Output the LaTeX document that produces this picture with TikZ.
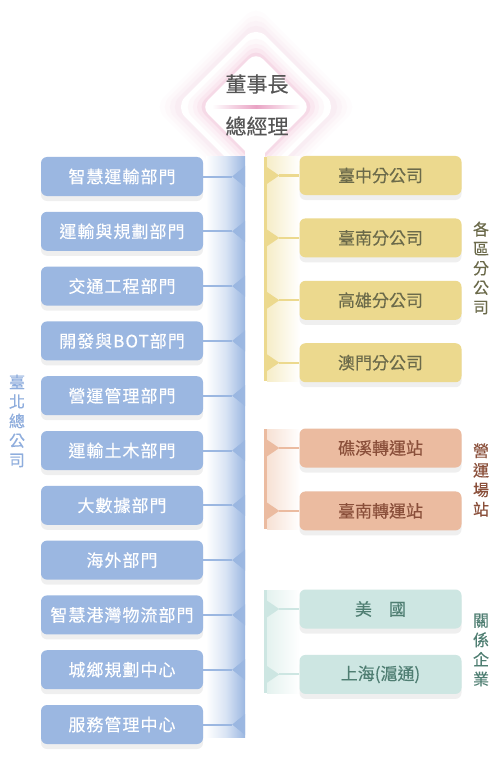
\documentclass[tikz,border=0pt]{standalone}
\usepackage{fontspec}
\setmainfont{Noto Sans CJK TC}
\newfontfamily\cjkforte[FakeBold=0.3]{Noto Sans CJK TC}
\newfontfamily\cjklargo[LetterSpace=6,FakeBold=0.3]{Noto Sans CJK TC}
\usepackage{tikz}
\usetikzlibrary{
    positioning,
    shapes.geometric,
    shadows
}
\usepackage{xcolor}
\definecolor{azul}{HTML}{9BB7E1}
\definecolor{azulclaro}{HTML}{D9E4F4}
\definecolor{azultexto}{HTML}{8EADDD}
\definecolor{amarelo}{HTML}{ECD98E}
\definecolor{amareloclaro}{HTML}{F6EDC8}
\definecolor{amarelotexto}{HTML}{6B6A4A}
\definecolor{laranja}{HTML}{EBBBA0}
\definecolor{laranjaclaro}{HTML}{F7E1D4}
\definecolor{laranjatexto}{HTML}{8A4F3A}
\definecolor{verde}{HTML}{CDE6E2}
\definecolor{verdeclaro}{HTML}{E4F2EF}
\definecolor{verdetexto}{HTML}{4F7E72}
\definecolor{rosa}{HTML}{E9A3C4}
\definecolor{cinza}{HTML}{555555}

\begin{document}
\begin{tikzpicture}[
    x=1pt, y=-1pt,
    node distance=15.4pt,
    every node/.style={font=\cjkforte\fontsize{17}{20}\selectfont},
    bloco/.style={
        rounded corners=6pt,
        minimum width=162pt,
        minimum height=39pt,
        inner sep=0pt,
        drop shadow={shadow xshift=0pt, shadow yshift=-5pt, opacity=0.12}
    },
    depto/.style={bloco, fill=azul, text=white, font=\cjklargo\fontsize{17}{20}\selectfont},
    filial/.style={bloco, fill=amarelo, text=amarelotexto},
    estacao/.style={bloco, fill=laranja, text=laranjatexto},
    coligada/.style={bloco, fill=verde, text=verdetexto},
    losango/.style={diamond, aspect=1, inner sep=0pt, rounded corners=14pt},
    chefe/.style={text=cinza, font=\cjkforte\fontsize{21}{24}\selectfont},
    rotulo/.style={align=center, font=\cjkforte\fontsize{16}{19.5}\selectfont},
    liga/.style={line width=2pt}
]

\fill[white] (0,0) rectangle (501,770);
\useasboundingbox (0,0) rectangle (501,770);

% diamante da diretoria
\node[losango, fill=rosa, opacity=0.03, minimum size=204pt] (brilho1) at (256,107) {};
\node[losango, fill=rosa, opacity=0.04, minimum size=194pt] (brilho2) at (256,107) {};
\node[losango, fill=rosa, opacity=0.05, minimum size=184pt] (brilho3) at (256,107) {};
\node[losango, fill=rosa, opacity=0.07, minimum size=174pt] (brilho4) at (256,107) {};
\node[losango, fill=white, minimum size=162pt] (anel) at (256,107) {};
\node[losango, fill=rosa!8, minimum size=148pt] (faixa1) at (256,107) {};
\node[losango, fill=rosa!15, minimum size=138pt] (faixa2) at (256,107) {};
\node[losango, fill=rosa!25, minimum size=128pt, rounded corners=12pt] (faixa3) at (256,107) {};
\node[losango, fill=rosa!40, minimum size=118pt, rounded corners=11pt] (faixa4) at (256,107) {};
\node[losango, fill=white, minimum size=110pt, rounded corners=10pt] (diretoria) at (256,107) {};
\shade[left color=white, right color=white, middle color=rosa] (212,106) rectangle (300,108.5);
\node[chefe] (presidente) at (257,84) {董事長};
\node[chefe] (gerente) at (257,126) {總經理};

% barras
\fill[white] (245,138) rectangle (265,745);
\shade[left color=white, right color=azul, middle color=azulclaro] (206,157) rectangle (245,737);
\fill[amarelo] (264,157) rectangle (267,381);
\shade[left color=amareloclaro, right color=white] (267,157) rectangle (300,381);
\fill[laranja] (264,429) rectangle (267,529);
\shade[left color=laranjaclaro, right color=white] (267,429) rectangle (300,529);
\fill[verde] (264,590) rectangle (267,693);
\shade[left color=verdeclaro, right color=white] (267,590) rectangle (300,693);

% departamentos
\node[depto] (d1) at (122,176.5) {智慧運輸部門};
\node[depto, below=of d1] (d2) {運輸與規劃部門};
\node[depto, below=of d2] (d3) {交通工程部門};
\node[depto, below=of d3] (d4) {開發與BOT部門};
\node[depto, below=of d4] (d5) {營運管理部門};
\node[depto, below=of d5] (d6) {運輸土木部門};
\node[depto, below=of d6] (d7) {大數據部門};
\node[depto, below=of d7] (d8) {海外部門};
\node[depto, below=of d8] (d9) {智慧港灣物流部門};
\node[depto, below=of d9] (d10) {城鄉規劃中心};
\node[depto, below=of d10] (d11) {服務管理中心};

% filiais
\node[filial] (f1) at (380.5,175.5) {臺中分公司};
\node[filial, below=23pt of f1] (f2) {臺南分公司};
\node[filial, below=23pt of f2] (f3) {高雄分公司};
\node[filial, below=23pt of f3] (f4) {澳門分公司};

\node[estacao] (e1) at (380.5,448) {礁溪轉運站};
\node[estacao, below=23.5pt of e1] (e2) {臺南轉運站};

\node[coligada] (c1) at (380.5,609) {美　國};
\node[coligada, below=26pt of c1] (c2) {上海(滬通)};

% pontas
\coordinate (pd1) at ([xshift=29pt]d1.east);
\coordinate (pd2) at ([xshift=29pt]d2.east);
\coordinate (pd3) at ([xshift=29pt]d3.east);
\coordinate (pd4) at ([xshift=29pt]d4.east);
\coordinate (pd5) at ([xshift=29pt]d5.east);
\coordinate (pd6) at ([xshift=29pt]d6.east);
\coordinate (pd7) at ([xshift=29pt]d7.east);
\coordinate (pd8) at ([xshift=29pt]d8.east);
\coordinate (pd9) at ([xshift=29pt]d9.east);
\coordinate (pd10) at ([xshift=29pt]d10.east);
\coordinate (pd11) at ([xshift=29pt]d11.east);
\coordinate (pf1) at ([xshift=-20pt]f1.west);
\coordinate (pf2) at ([xshift=-20pt]f2.west);
\coordinate (pf3) at ([xshift=-20pt]f3.west);
\coordinate (pf4) at ([xshift=-20pt]f4.west);
\coordinate (pe1) at ([xshift=-20pt]e1.west);
\coordinate (pe2) at ([xshift=-20pt]e2.west);
\coordinate (pc1) at ([xshift=-20pt]c1.west);
\coordinate (pc2) at ([xshift=-20pt]c2.west);

% ligacoes
\draw[liga, azul] (d1) -- (pd1);
\draw[liga, azul] (d2) -- (pd2);
\draw[liga, azul] (d3) -- (pd3);
\draw[liga, azul] (d4) -- (pd4);
\draw[liga, azul] (d5) -- (pd5);
\draw[liga, azul] (d6) -- (pd6);
\draw[liga, azul] (d7) -- (pd7);
\draw[liga, azul] (d8) -- (pd8);
\draw[liga, azul] (d9) -- (pd9);
\draw[liga, azul] (d10) -- (pd10);
\draw[liga, azul] (d11) -- (pd11);
\draw[liga, amarelo] (pf1) -- (f1);
\draw[liga, amarelo] (pf2) -- (f2);
\draw[liga, amarelo] (pf3) -- (f3);
\draw[liga, amarelo] (pf4) -- (f4);
\draw[liga, laranja] (pe1) -- (e1);
\draw[liga, laranja] (pe2) -- (e2);
\draw[liga, verde] (pc1) -- (c1);
\draw[liga, verde] (pc2) -- (c2);

\fill[azul] (pd1) -- ++(13,-10.5) -- ++(0,21) -- cycle;
\fill[azul] (pd2) -- ++(13,-10.5) -- ++(0,21) -- cycle;
\fill[azul] (pd3) -- ++(13,-10.5) -- ++(0,21) -- cycle;
\fill[azul] (pd4) -- ++(13,-10.5) -- ++(0,21) -- cycle;
\fill[azul] (pd5) -- ++(13,-10.5) -- ++(0,21) -- cycle;
\fill[azul] (pd6) -- ++(13,-10.5) -- ++(0,21) -- cycle;
\fill[azul] (pd7) -- ++(13,-10.5) -- ++(0,21) -- cycle;
\fill[azul] (pd8) -- ++(13,-10.5) -- ++(0,21) -- cycle;
\fill[azul] (pd9) -- ++(13,-10.5) -- ++(0,21) -- cycle;
\fill[azul] (pd10) -- ++(13,-10.5) -- ++(0,21) -- cycle;
\fill[azul] (pd11) -- ++(13,-10.5) -- ++(0,21) -- cycle;
\fill[amarelo] (pf1) -- ++(-14,-9.5) -- ++(0,19) -- cycle;
\fill[amarelo] (pf2) -- ++(-14,-9.5) -- ++(0,19) -- cycle;
\fill[amarelo] (pf3) -- ++(-14,-9.5) -- ++(0,19) -- cycle;
\fill[amarelo] (pf4) -- ++(-14,-9.5) -- ++(0,19) -- cycle;
\fill[laranja] (pe1) -- ++(-14,-9.5) -- ++(0,19) -- cycle;
\fill[laranja] (pe2) -- ++(-14,-9.5) -- ++(0,19) -- cycle;
\fill[verde] (pc1) -- ++(-14,-9.5) -- ++(0,19) -- cycle;
\fill[verde] (pc2) -- ++(-14,-9.5) -- ++(0,19) -- cycle;

% rotulos dos grupos
\node[rotulo, text=azultexto] (matriz) at (17,421) {臺\\北\\總\\公\\司};
\node[rotulo, text=amarelotexto] (regionais) at (481,268) {各\\區\\分\\公\\司};
\node[rotulo, text=laranjatexto] (estacoes) at (481,480) {營\\運\\場\\站};
\node[rotulo, text=verdetexto] (coligadas) at (481,650) {關\\係\\企\\業};

\end{tikzpicture}
\end{document}
